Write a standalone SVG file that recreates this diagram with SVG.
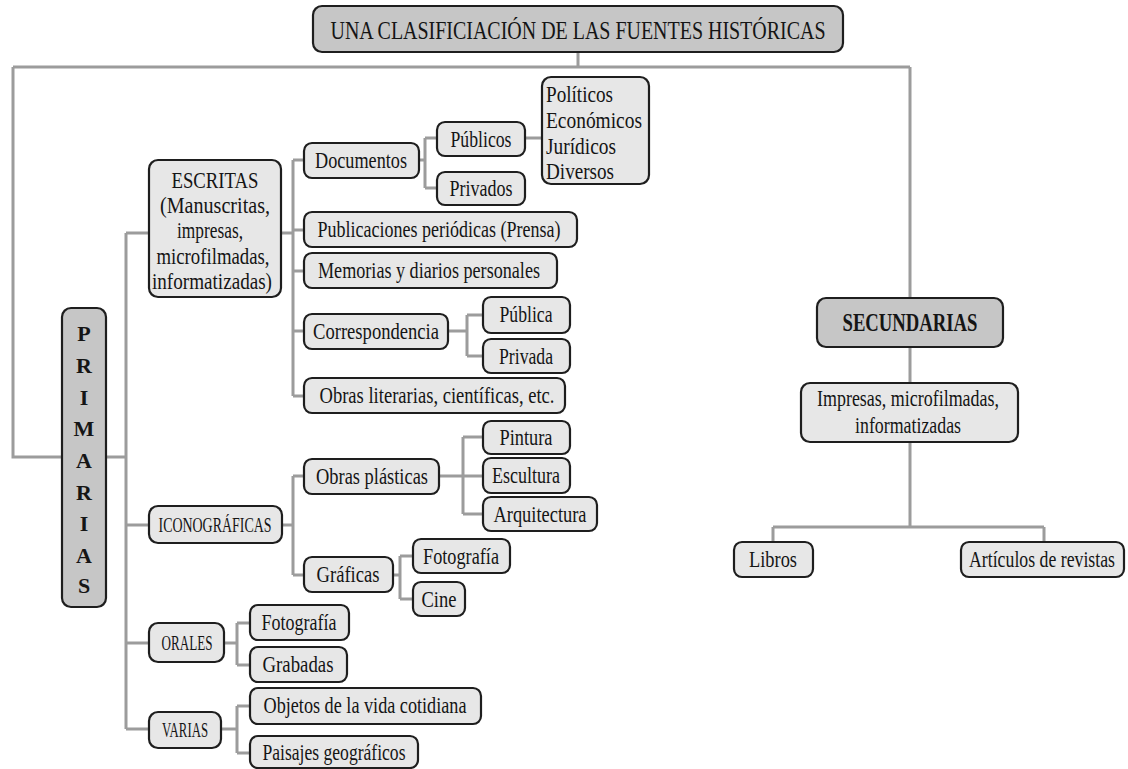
<svg xmlns="http://www.w3.org/2000/svg" width="1128" height="769" viewBox="0 0 1128 769">
<style>
.box{fill:#e7e7e7;stroke:#1e1e1e;stroke-width:2.2}
.dark{fill:#c6c6c6}
text{font-family:'Liberation Serif','DejaVu Serif',serif}
.t{font-size:24px;fill:#151515;text-anchor:middle}
.l{text-anchor:start}
.sc{font-size:21px}
.b{font-weight:bold;font-size:25px}
.pl{font-weight:bold;font-size:22px}
.c{fill:none;stroke:#9c9c9c;stroke-width:3}
</style>
<rect width="1128" height="769" fill="#ffffff"/>
<g id="connectors" class="c">
<path d="M578,52V67M13,67H910M13,67V457H62M910,67V298"/>
<path d="M106,457H126M126,233V729M126,233H149M126,525H149M126,643H149M126,729H149"/>
<path d="M281,233H293M293,160V396M293,160H304M293,230H304M293,271H304M293,331H304M293,396H304"/>
<path d="M419,160H425M425,138V188M425,138H437M425,188H437M525,138H542"/>
<path d="M448,331H467M467,315V356M467,315H483M467,356H483"/>
<path d="M282,525H293M293,476V575M293,476H304M293,575H304"/>
<path d="M439,476H483M463,437V514M463,437H483M463,514H483"/>
<path d="M393,575H400M400,556V599M400,556H413M400,599H413"/>
<path d="M224,643H237M237,623V665M237,623H250M237,665H250"/>
<path d="M221,729H237M237,706V753M237,706H250M237,753H250"/>
<path d="M910,347V383M910,442V527M773,527H1044M773,527V542M1044,527V542"/>
</g>
<g id="title"><rect class="box dark" x="313" y="6" width="530" height="46" rx="9"/><text class="t" x="578" y="39" style="font-size:26px" textLength="495" lengthAdjust="spacingAndGlyphs">UNA CLASIFICIACIÓN DE LAS FUENTES HISTÓRICAS</text></g>
<g id="primarias"><rect class="box dark" x="62" y="308" width="44" height="299" rx="9"/>
<text class="t pl" x="84" y="341">P</text>
<text class="t pl" x="84" y="373">R</text>
<text class="t pl" x="84" y="405">I</text>
<text class="t pl" x="84" y="436">M</text>
<text class="t pl" x="84" y="468">A</text>
<text class="t pl" x="84" y="500">R</text>
<text class="t pl" x="84" y="531">I</text>
<text class="t pl" x="84" y="563">A</text>
<text class="t pl" x="84" y="593">S</text>
</g>
<g id="escritas"><rect class="box" x="149" y="160" width="132" height="137" rx="9"/>
<text class="t" x="215" y="188" textLength="87" lengthAdjust="spacingAndGlyphs">ESCRITAS</text>
<text class="t" x="215" y="213" textLength="110" lengthAdjust="spacingAndGlyphs">(Manuscritas,</text>
<text class="t" x="210" y="238" textLength="66" lengthAdjust="spacingAndGlyphs">impresas,</text>
<text class="t" x="213" y="264" textLength="113" lengthAdjust="spacingAndGlyphs">microfilmadas,</text>
<text class="t" x="212" y="289" textLength="120" lengthAdjust="spacingAndGlyphs">informatizadas)</text>
</g>
<g id="documentos"><rect class="box" x="304" y="143" width="115" height="35" rx="8"/><text class="t" x="361" y="168" textLength="92" lengthAdjust="spacingAndGlyphs">Documentos</text></g>
<g id="publicos"><rect class="box" x="437" y="122" width="88" height="34" rx="8"/><text class="t" x="481" y="147" textLength="61" lengthAdjust="spacingAndGlyphs">Públicos</text></g>
<g id="privados"><rect class="box" x="437" y="172" width="88" height="33" rx="8"/><text class="t" x="481" y="196" textLength="63" lengthAdjust="spacingAndGlyphs">Privados</text></g>
<g id="politicos"><rect class="box" x="542" y="77" width="107" height="107" rx="9"/>
<text class="t l" x="546" y="102" textLength="67" lengthAdjust="spacingAndGlyphs">Políticos</text>
<text class="t l" x="546" y="128" textLength="96" lengthAdjust="spacingAndGlyphs">Económicos</text>
<text class="t l" x="546" y="154" textLength="70" lengthAdjust="spacingAndGlyphs">Jurídicos</text>
<text class="t l" x="546" y="179" textLength="68" lengthAdjust="spacingAndGlyphs">Diversos</text>
</g>
<g id="publicaciones"><rect class="box" x="304" y="212" width="273" height="35" rx="8"/><text class="t" x="439" y="237" textLength="243" lengthAdjust="spacingAndGlyphs">Publicaciones periódicas (Prensa)</text></g>
<g id="memorias"><rect class="box" x="304" y="253" width="253" height="35" rx="8"/><text class="t" x="429" y="278" textLength="222" lengthAdjust="spacingAndGlyphs">Memorias y diarios personales</text></g>
<g id="correspondencia"><rect class="box" x="304" y="314" width="144" height="35" rx="8"/><text class="t" x="376" y="339" textLength="126" lengthAdjust="spacingAndGlyphs">Correspondencia</text></g>
<g id="publica"><rect class="box" x="483" y="297" width="87" height="36" rx="8"/><text class="t" x="526" y="322" textLength="53" lengthAdjust="spacingAndGlyphs">Pública</text></g>
<g id="privada"><rect class="box" x="483" y="339" width="87" height="34" rx="8"/><text class="t" x="526" y="364" textLength="54" lengthAdjust="spacingAndGlyphs">Privada</text></g>
<g id="obras-literarias"><rect class="box" x="304" y="378" width="261" height="35" rx="8"/><text class="t" x="437" y="403" textLength="235" lengthAdjust="spacingAndGlyphs">Obras literarias, científicas, etc.</text></g>
<g id="iconograficas"><rect class="box" x="149" y="506" width="133" height="37" rx="9"/><text class="t sc" x="215" y="532" textLength="113" lengthAdjust="spacingAndGlyphs">ICONOGRÁFICAS</text></g>
<g id="obras-plasticas"><rect class="box" x="304" y="459" width="135" height="35" rx="8"/><text class="t" x="372" y="484" textLength="112" lengthAdjust="spacingAndGlyphs">Obras plásticas</text></g>
<g id="pintura"><rect class="box" x="483" y="421" width="87" height="33" rx="8"/><text class="t" x="526" y="445" textLength="53" lengthAdjust="spacingAndGlyphs">Pintura</text></g>
<g id="escultura"><rect class="box" x="483" y="458" width="87" height="35" rx="8"/><text class="t" x="526" y="483" textLength="68" lengthAdjust="spacingAndGlyphs">Escultura</text></g>
<g id="arquitectura"><rect class="box" x="483" y="497" width="114" height="34" rx="8"/><text class="t" x="540" y="522" textLength="93" lengthAdjust="spacingAndGlyphs">Arquitectura</text></g>
<g id="graficas"><rect class="box" x="304" y="557" width="89" height="35" rx="8"/><text class="t" x="348" y="582" textLength="63" lengthAdjust="spacingAndGlyphs">Gráficas</text></g>
<g id="fotografia-1"><rect class="box" x="413" y="539" width="97" height="34" rx="8"/><text class="t" x="461" y="564" textLength="76" lengthAdjust="spacingAndGlyphs">Fotografía</text></g>
<g id="cine"><rect class="box" x="413" y="582" width="52" height="34" rx="8"/><text class="t" x="439" y="607" textLength="35" lengthAdjust="spacingAndGlyphs">Cine</text></g>
<g id="orales"><rect class="box" x="149" y="623" width="75" height="39" rx="9"/><text class="t sc" x="187" y="650" textLength="51" lengthAdjust="spacingAndGlyphs">ORALES</text></g>
<g id="fotografia-2"><rect class="box" x="250" y="605" width="99" height="35" rx="8"/><text class="t" x="299" y="630" textLength="75" lengthAdjust="spacingAndGlyphs">Fotografía</text></g>
<g id="grabadas"><rect class="box" x="250" y="647" width="97" height="35" rx="8"/><text class="t" x="298" y="672" textLength="71" lengthAdjust="spacingAndGlyphs">Grabadas</text></g>
<g id="varias"><rect class="box" x="149" y="712" width="72" height="36" rx="9"/><text class="t sc" x="185" y="737" textLength="46" lengthAdjust="spacingAndGlyphs">VARIAS</text></g>
<g id="objetos"><rect class="box" x="250" y="688" width="231" height="36" rx="8"/><text class="t" x="365" y="713" textLength="203" lengthAdjust="spacingAndGlyphs">Objetos de la vida cotidiana</text></g>
<g id="paisajes"><rect class="box" x="250" y="736" width="168" height="32" rx="8"/><text class="t" x="334" y="760" textLength="143" lengthAdjust="spacingAndGlyphs">Paisajes geográficos</text></g>
<g id="secundarias"><rect class="box dark" x="817" y="298" width="186" height="49" rx="9"/><text class="t b" x="910" y="331" textLength="135" lengthAdjust="spacingAndGlyphs">SECUNDARIAS</text></g>
<g id="impresas"><rect class="box" x="801" y="383" width="217" height="59" rx="9"/>
<text class="t" x="908" y="406" textLength="182" lengthAdjust="spacingAndGlyphs">Impresas, microfilmadas,</text>
<text class="t" x="908" y="433" textLength="106" lengthAdjust="spacingAndGlyphs">informatizadas</text>
</g>
<g id="libros"><rect class="box" x="734" y="542" width="79" height="35" rx="8"/><text class="t" x="773" y="567" textLength="48" lengthAdjust="spacingAndGlyphs">Libros</text></g>
<g id="articulos"><rect class="box" x="961" y="542" width="163" height="35" rx="8"/><text class="t" transform="translate(1042,567) scale(0.74,1)" x="0" y="0">Artículos de revistas</text></g>
</svg>
